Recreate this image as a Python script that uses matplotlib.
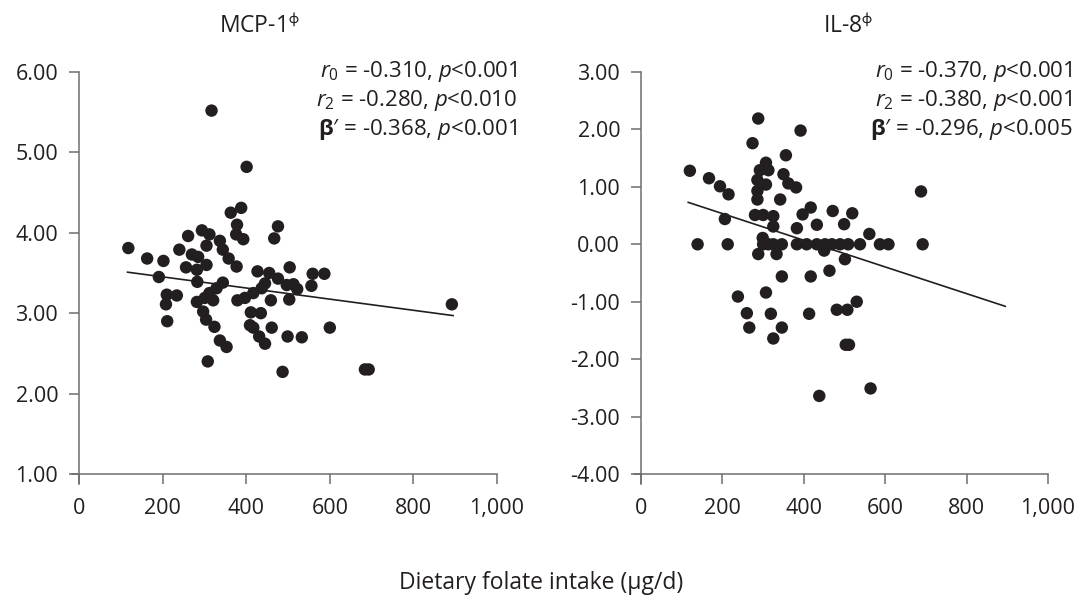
import matplotlib
matplotlib.use('Agg')
import matplotlib.pyplot as plt

# ── data ────────────────────────────────────────────────────────────────────

MCP_X = [317, 401, 388, 363, 378, 476, 467, 376, 393, 261, 294, 312, 305, 337,
         344, 118, 163, 202, 240, 191, 270, 285, 256, 305, 282, 283, 358, 377,
         427, 455, 476, 504, 559, 587, 556, 513, 522, 497, 344, 329, 312, 321,
         301, 282, 210, 234, 208, 211, 297, 304, 324, 337, 353, 308, 379, 397,
         417, 437, 445, 459, 411, 435, 409, 417, 461, 431, 445, 499, 533, 487,
         600, 503, 684, 693, 892]
MCP_Y = [5.52, 4.82, 4.31, 4.25, 4.10, 4.08, 3.93, 3.98, 3.92, 3.96, 4.03, 3.98,
         3.84, 3.90, 3.79, 3.81, 3.68, 3.65, 3.79, 3.45, 3.73, 3.70, 3.57, 3.60,
         3.54, 3.39, 3.68, 3.58, 3.52, 3.50, 3.43, 3.57, 3.49, 3.49, 3.34, 3.36,
         3.30, 3.35, 3.38, 3.31, 3.25, 3.16, 3.19, 3.14, 3.23, 3.22, 3.11, 2.90,
         3.02, 2.92, 2.83, 2.66, 2.58, 2.40, 3.16, 3.19, 3.25, 3.31, 3.37, 3.16,
         3.01, 3.00, 2.85, 2.82, 2.82, 2.71, 2.62, 2.71, 2.70, 2.27, 2.82, 3.17,
         2.30, 2.30, 3.11]

IL8_X = [288, 392, 274, 356, 120, 167, 194, 215, 307, 292, 313, 286, 307, 350,
         362, 381, 286, 286, 342, 417, 397, 471, 519, 499, 432, 383, 280, 300,
         325, 325, 206, 139, 213, 299,
         300, 313, 325, 346, 383, 407, 432, 452, 469, 489, 509, 538, 587, 608,
         561, 288, 333, 450, 501, 463, 346, 417, 238, 307, 260, 319, 413, 481,
         507, 530, 266, 346, 325, 503, 511, 438, 564, 688, 692]
IL8_Y = [2.19, 1.98, 1.76, 1.55, 1.28, 1.15, 1.01, 0.87, 1.42, 1.29, 1.29, 1.12,
         1.04, 1.22, 1.06, 0.99, 0.93, 0.78, 0.78, 0.64, 0.52, 0.58, 0.54, 0.35,
         0.34, 0.28, 0.51, 0.51, 0.49, 0.31, 0.44, 0.00, 0.00, 0.11,
         0.00, 0.00, 0.00, 0.00, 0.00, 0.00, 0.00, 0.00, 0.00, 0.00, 0.00, 0.00,
         0.00, 0.00,
         0.18, -0.17, -0.17, -0.11, -0.26, -0.46, -0.56, -0.56, -0.91, -0.84,
         -1.20, -1.21, -1.21, -1.14, -1.14, -1.00, -1.45, -1.45, -1.64, -1.75,
         -1.75, -2.64, -2.51, 0.92, 0.00]

# fitted lines (end points as drawn)
LINE_X = [116, 895]
MCP_LINE_Y = [3.51, 2.97]
IL8_LINE_Y = [0.73, -1.08]

X_TICKS = [0, 200, 400, 600, 800, 1000]
X_TICKLABELS = ['0', '200', '400', '600', '800', '1,000']
MCP_TICKS = [1, 2, 3, 4, 5, 6]
IL8_TICKS = [-4, -3, -2, -1, 0, 1, 2, 3]

MCP_STATS = [r'$r_0$ = -0.310, $p$<0.001',
             r'$r_2$ = -0.280, $p$<0.010',
             r"$\mathbf{\beta}$′ = -0.368, $p$<0.001"]
IL8_STATS = [r'$r_0$ = -0.370, $p$<0.001',
             r'$r_2$ = -0.380, $p$<0.001',
             r"$\mathbf{\beta}$′ = -0.296, $p$<0.005"]

# ── style ───────────────────────────────────────────────────────────────────

plt.rcParams.update({
    'font.family': ['Open Sans', 'DejaVu Sans'],
    'mathtext.fontset': 'custom',
    'mathtext.rm': 'Open Sans',
    'mathtext.it': 'Open Sans:italic',
    'mathtext.bf': 'Open Sans:bold',
    'mathtext.fallback': 'stixsans',
    'text.color': '#231f20',
})

INK = '#231f20'
AXIS = '#6d6d6d'
W, H = 1081, 602


def setup_axes(ax, yticks, ylo):
    ax.set_xlim(-18, 1000)
    ax.set_ylim(ylo, yticks[-1])
    for s in ('top', 'right'):
        ax.spines[s].set_visible(False)
    ax.spines['left'].set_position(('data', 0))
    ax.spines['bottom'].set_position(('data', yticks[0]))
    for s in ('left', 'bottom'):
        ax.spines[s].set_color(AXIS)
        ax.spines[s].set_linewidth(1.1)
    ax.set_xticks(X_TICKS)
    ax.set_xticklabels(X_TICKLABELS)
    ax.set_yticks(yticks)
    ax.set_yticklabels([f'{v:.2f}' for v in yticks])
    ax.tick_params(colors=AXIS, labelcolor=INK, labelsize=15.5, length=7,
                   width=1.1, direction='out')
    ax.tick_params(axis='x', pad=10)
    ax.tick_params(axis='y', pad=8)


def panel(rect, xs, ys, line_y, yticks, ylo, title, title_x, stats, text_right):
    ax = fig.add_axes(rect)
    ax.scatter(xs, ys, s=80, color=INK, edgecolors='none', zorder=3)
    ax.plot(LINE_X, line_y, color=INK, linewidth=1.2, zorder=2)
    setup_axes(ax, yticks, ylo)
    fig.text(title_x / W, 1 - 27 / H, title, ha='center', va='center',
             fontsize=16.5)
    for i, line in enumerate(stats):
        fig.text(text_right / W, 1 - (72 + 28.5 * i) / H, line,
                 ha='right', va='center', fontsize=16)
    return ax


fig = plt.figure(figsize=(W / 100, H / 100), dpi=100)

# left panel: x data 0 -> 79 px, 1000 -> 497 px ; y 6 -> 72 px, 1 -> 474 px
ax1 = panel([71.5 / W, 1 - 483.6 / H, (497 - 71.5) / W, (483.6 - 72) / H],
            MCP_X, MCP_Y, MCP_LINE_Y, MCP_TICKS, 0.88,
            r'MCP-1$^{\mathrm{ϕ}}$', 259, MCP_STATS, 517)

# right panel: x data 0 -> 641 px, 1000 -> 1048 px ; y 3 -> 72 px, -4 -> 474 px
ax2 = panel([633.7 / W, 1 - 483.6 / H, (1048 - 633.7) / W, (483.6 - 72) / H],
            IL8_X, IL8_Y, IL8_LINE_Y, IL8_TICKS, -4.167,
            r'IL-8$^{\mathrm{ϕ}}$', 848, IL8_STATS, 1072)

fig.text(541 / W, 1 - 583 / H, 'Dietary folate intake (μg/d)',
         ha='center', va='center', fontsize=16.5)

fig.savefig('out.png', dpi=100)
